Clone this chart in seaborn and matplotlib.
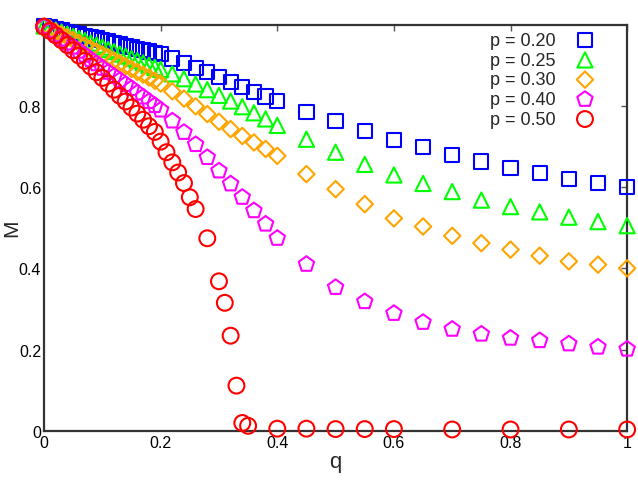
import numpy as np
import matplotlib
matplotlib.use("Agg")
import matplotlib.pyplot as plt
import seaborn as sns

# --- data ---
q_grid = [0.00, 0.01, 0.02, 0.03, 0.04, 0.05, 0.06, 0.07, 0.08, 0.09, 0.10,
          0.11, 0.12, 0.13, 0.14, 0.15, 0.16, 0.17, 0.18, 0.19, 0.20,
          0.22, 0.24, 0.26, 0.28, 0.30, 0.32, 0.34, 0.36, 0.38, 0.40,
          0.45, 0.50, 0.55, 0.60, 0.65, 0.70, 0.75, 0.80, 0.85, 0.90, 0.95, 1.00]

m_p020 = [0.997, 0.994, 0.990, 0.987, 0.983, 0.980, 0.976, 0.973, 0.969, 0.966, 0.962,
          0.959, 0.955, 0.952, 0.948, 0.945, 0.941, 0.938, 0.934, 0.931, 0.928,
          0.917, 0.906, 0.894, 0.883, 0.871, 0.859, 0.847, 0.835, 0.823, 0.812,
          0.785, 0.763, 0.738, 0.717, 0.698, 0.680, 0.663, 0.647, 0.634, 0.620, 0.611, 0.600]

m_p025 = [0.997, 0.992, 0.987, 0.982, 0.977, 0.971, 0.966, 0.961, 0.955, 0.950, 0.945,
          0.939, 0.934, 0.928, 0.923, 0.917, 0.912, 0.906, 0.900, 0.895, 0.890,
          0.879, 0.867, 0.854, 0.840, 0.826, 0.812, 0.798, 0.783, 0.768, 0.752,
          0.718, 0.686, 0.656, 0.630, 0.609, 0.589, 0.568, 0.552, 0.539, 0.526, 0.515, 0.505]

m_p030 = [0.996, 0.990, 0.983, 0.976, 0.969, 0.962, 0.955, 0.948, 0.941, 0.934, 0.927,
          0.920, 0.912, 0.905, 0.898, 0.891, 0.884, 0.877, 0.870, 0.862, 0.855,
          0.836, 0.818, 0.799, 0.780, 0.761, 0.743, 0.726, 0.710, 0.694, 0.677,
          0.632, 0.595, 0.558, 0.523, 0.503, 0.480, 0.462, 0.446, 0.431, 0.417, 0.409, 0.400]

m_p040 = [0.995, 0.985, 0.975, 0.965, 0.955, 0.945, 0.935, 0.925, 0.914, 0.904, 0.893,
          0.883, 0.873, 0.863, 0.853, 0.843, 0.832, 0.822, 0.811, 0.801, 0.790,
          0.763, 0.735, 0.705, 0.673, 0.640, 0.608, 0.575, 0.542, 0.509, 0.474,
          0.410, 0.353, 0.318, 0.289, 0.267, 0.250, 0.238, 0.228, 0.222, 0.214, 0.206, 0.201]

q_p050 = [0.00, 0.01, 0.02, 0.03, 0.04, 0.05, 0.06, 0.07, 0.08, 0.09, 0.10,
          0.11, 0.12, 0.13, 0.14, 0.15, 0.16, 0.17, 0.18, 0.19, 0.20,
          0.21, 0.22, 0.23, 0.24, 0.25, 0.26, 0.28, 0.30, 0.31, 0.32, 0.33, 0.34, 0.35,
          0.40, 0.45, 0.50, 0.55, 0.60, 0.70, 0.80, 0.90, 1.00]
m_p050 = [0.995, 0.985, 0.974, 0.962, 0.950, 0.937, 0.924, 0.911, 0.897, 0.883, 0.869,
          0.855, 0.840, 0.825, 0.811, 0.796, 0.781, 0.766, 0.750, 0.736, 0.712,
          0.686, 0.661, 0.636, 0.610, 0.575, 0.546, 0.474, 0.368, 0.315, 0.234, 0.111, 0.019, 0.012,
          0.005, 0.005, 0.004, 0.004, 0.004, 0.003, 0.003, 0.003, 0.003]

labels = ["p = 0.20", "p = 0.25", "p = 0.30", "p = 0.40", "p = 0.50"]
colors = ["#0000ff", "#00ff00", "#ffa500", "#ff00ff", "#ff0000"]
markers = ["s", "^", "D", "p", "o"]
sizes = [105, 120, 70, 135, 130]

x_ticks = [0, 0.2, 0.4, 0.6, 0.8, 1.0]
x_tick_labels = ["0", "0.2", "0.4", "0.6", "0.8", "1"]
y_ticks = [0, 0.2, 0.4, 0.6, 0.8]
y_tick_labels = ["0", "0.2", "0.4", "0.6", "0.8"]

sns.set_theme(style="white")
plt.rcParams["font.family"] = ["Liberation Sans", "DejaVu Sans"]

fig = plt.figure(figsize=(6.38, 4.81), dpi=100)
ax = fig.add_axes([0.069, 0.1025, 0.914, 0.844])

series = [(q_grid, m_p020), (q_grid, m_p025), (q_grid, m_p030), (q_grid, m_p040), (q_p050, m_p050)]
for (xs, ys), lab, col, mk, sz in zip(series, labels, colors, markers, sizes):
    sns.scatterplot(x=xs, y=ys, marker=mk, s=sz, facecolor="none", edgecolor=col,
                    linewidth=1.5, label=lab, clip_on=False, zorder=3, ax=ax)

ax.set_xlim(0, 1)
ax.set_ylim(0, 1)
ax.set_xticks(x_ticks)
ax.set_xticklabels(x_tick_labels)
ax.set_yticks(y_ticks)
ax.set_yticklabels(y_tick_labels)
ax.tick_params(direction="in", length=4, width=1, color="#555555", labelsize=11.5,
               top=True, right=True, labelcolor="black")
ax.tick_params(axis="x", pad=3)
ax.tick_params(axis="y", pad=2)
for sp in ax.spines.values():
    sp.set_visible(True)
    sp.set_color("#333333")
    sp.set_linewidth(1.6)
ax.set_xlabel("q", fontsize=16, labelpad=1)
ax.set_ylabel("M", fontsize=15, va="center")
ax.yaxis.set_label_coords(-0.056, 0.5)

leg = ax.legend(loc="upper right", frameon=False, markerfirst=False, fontsize=13,
                labelspacing=0.15, handletextpad=0.65, borderaxespad=0.0,
                bbox_to_anchor=(0.971, 1.0))

plt.savefig("out.png", dpi=100)
